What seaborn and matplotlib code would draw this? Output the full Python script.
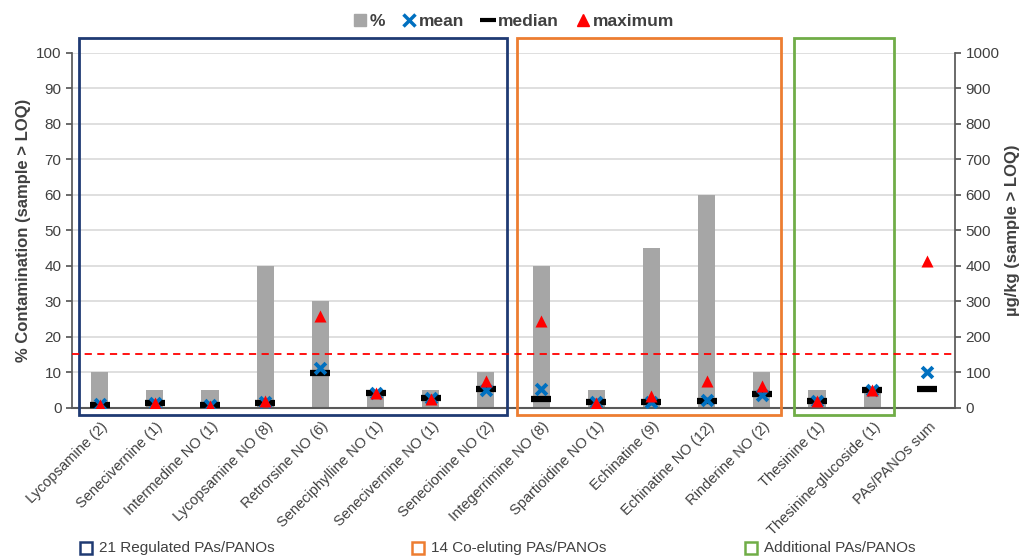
import numpy as np
import pandas as pd
import matplotlib
matplotlib.use("Agg")
import matplotlib.pyplot as plt
import matplotlib.transforms as mtransforms
import seaborn as sns
from matplotlib.patches import Rectangle
from matplotlib.lines import Line2D

categories = ["Lycopsamine (2)", "Senecivernine (1)", "Intermedine NO (1)", "Lycopsamine NO (8)",
              "Retrorsine NO (6)", "Seneciphylline NO (1)", "Senecivernine NO (1)", "Senecionine NO (2)",
              "Integerrimine NO (8)", "Spartioidine NO (1)", "Echinatine (9)", "Echinatine NO (12)",
              "Rinderine NO (2)", "Thesinine (1)", "Thesinine-glucoside (1)", "PAs/PANOs sum"]
pct = [10, 5, 5, 40, 30, 5, 5, 10, 40, 5, 45, 60, 10, 5, 5, 0]
mean_vals = [10, 12, 8, 17, 113, 42, 26, 50, 54, 16, 15, 23, 36, 20, 50, 100]
median_vals = [7, 12, 8, 12, 97, 42, 26, 52, 25, 16, 17, 20, 39, 20, 50, 54]
max_vals = [8, 12, 6, 20, 258, 40, 24, 76, 244, 14, 34, 75, 62, 20, 50, 414]
group_labels = ["21 Regulated PAs/PANOs", "14 Co-eluting PAs/PANOs", "Additional PAs/PANOs"]
threshold = 150

sns.set_theme(style="white")
plt.rcParams['font.family'] = ['Liberation Sans', 'DejaVu Sans']

fig = plt.figure(figsize=(10.27, 5.58), dpi=100)
ax = fig.add_axes([0.0701, 0.2694, 0.8598, 0.6362])

df = pd.DataFrame({"cat": categories, "pct": pct, "mean": mean_vals,
                   "median": median_vals, "max": max_vals})
df["pos"] = np.arange(len(df))

sns.barplot(data=df, x="cat", y="pct", color="#A6A6A6", width=0.31, saturation=1,
            linewidth=0, edgecolor="none", ax=ax, zorder=2)
ax.set_ylim(0, 100)
ax.set_xlim(-0.5, len(df) - 0.5)
ax.set_yticks(np.arange(0, 101, 10))
ax.yaxis.grid(True, color="#D9D9D9", linewidth=1.2, zorder=0)
ax.set_axisbelow(True)
for s in ["top", "right"]:
    ax.spines[s].set_visible(False)
ax.spines["left"].set_color("#595959")
ax.spines["bottom"].set_color("#595959")
ax.spines["bottom"].set_linewidth(1.5)
ax.tick_params(axis="y", left=True, length=4, color="#595959", labelsize=11, labelcolor="#404040")
ax.tick_params(axis="x", bottom=False, labelsize=10.5, labelcolor="#404040", pad=6)
ax.set_xticks(np.arange(len(df)))
ax.set_xticklabels(categories, rotation=45, ha="right", va="center", rotation_mode="anchor")
offset = mtransforms.ScaledTranslation(6 / 100, 0, fig.dpi_scale_trans)
for lbl in ax.get_xticklabels():
    lbl.set_transform(lbl.get_transform() + offset)
ax.set_xlabel("")
ax.set_ylabel("% Contamination (sample > LOQ)", fontsize=12, fontweight="bold", color="#404040")

ax2 = ax.twinx()
ax2.set_ylim(0, 1000)
ax2.set_yticks(np.arange(0, 1001, 100))
for s in ["top", "left"]:
    ax2.spines[s].set_visible(False)
ax2.spines["right"].set_color("#595959")
ax2.spines["bottom"].set_visible(False)
ax2.tick_params(axis="y", right=True, length=4, color="#595959", labelsize=11, labelcolor="#404040")
ax2.set_ylabel("µg/kg (sample > LOQ)", fontsize=12, fontweight="bold", color="#404040")

ax2.axhline(threshold, color="#FF0000", linestyle=(0, (4, 3)), linewidth=1.3, zorder=3)

sns.scatterplot(data=df, x="pos", y="median", marker="_", s=220, linewidth=4.5,
                color="black", ax=ax2, zorder=4, legend=False)
sns.scatterplot(data=df, x="pos", y="mean", marker="x", s=60, linewidth=2.8,
                color="#0070C0", ax=ax2, zorder=5, legend=False)
sns.scatterplot(data=df, x="pos", y="max", marker="^", s=75, linewidth=0,
                color="#FF0000", ax=ax2, zorder=6, legend=False)
ax2.set_xlim(-0.5, len(df) - 0.5)
ax2.set_xlabel("")

# group boxes (in data coordinates)
boxes = [(-0.37, 7.39, "#1F3A73"), (7.56, 12.34, "#ED7D31"), (12.59, 14.40, "#70AD47")]
for x0, x1, c in boxes:
    ax.add_patch(Rectangle((x0, -2.2), x1 - x0, 106.2, fill=False, edgecolor=c,
                           linewidth=2, clip_on=False, zorder=7))

# top legend
handles = [
    Line2D([], [], marker="s", color="#A6A6A6", linestyle="none", markersize=8),
    Line2D([], [], marker="x", color="#0070C0", linestyle="none", markersize=8, mew=2.5),
    Line2D([], [], marker="_", color="black", linestyle="none", markersize=12, mew=3),
    Line2D([], [], marker="^", color="#FF0000", linestyle="none", markersize=8),
]
fig.legend(handles, ["%", "mean", "median", "maximum"], loc="center", bbox_to_anchor=(0.5, 0.962),
           ncol=4, frameon=False, handletextpad=0.15, columnspacing=1.0, handlelength=0.8,
           prop={"weight": "bold", "size": 12.5}, labelcolor="#404040")

# bottom group legend
gx = [80, 412, 745]
for (x0, x1, c), lab, px in zip(boxes, group_labels, gx):
    fig.patches.append(Rectangle((px / 1027, 1 - 554 / 558), 12 / 1027, 12 / 558, fill=False,
                                 edgecolor=c, linewidth=1.8, transform=fig.transFigure))
    fig.text((px + 19) / 1027, 1 - 548 / 558, lab, fontsize=11, color="#404040", va="center")

fig.savefig("out.png", dpi=100)
